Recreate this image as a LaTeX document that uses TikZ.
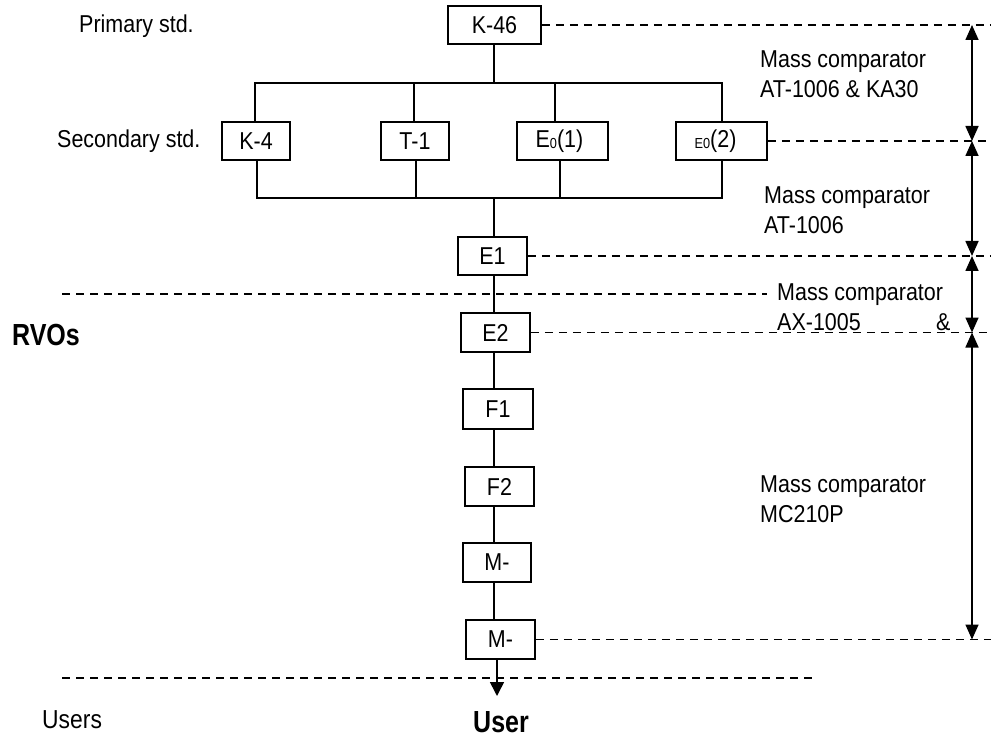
\documentclass[tikz,border=0pt]{standalone}
\usepackage{fontspec}
\setmainfont{Liberation Sans}[FakeStretch=0.88]
\newfontfamily\bnarrow{Liberation Sans}[FakeStretch=0.82]
\usetikzlibrary{arrows.meta}
\begin{document}
\begin{tikzpicture}[x=1pt,y=-1pt,
  every node/.style={font=\fontsize{24.4}{30}\selectfont},
  box/.style={draw, line width=1.6pt, inner sep=0pt, minimum height=38pt},
  conn/.style={line width=1.6pt, line cap=rect},
  dline/.style={line width=1.6pt, dash pattern=on 8pt off 6pt},
  dim/.style={line width=1.6pt, {Triangle[length=15pt,width=13pt]}-{Triangle[length=15pt,width=13pt]}},
  lbl/.style={anchor=base west, inner sep=0pt, align=left},
  boldlbl/.style={lbl, font=\bnarrow\bfseries\fontsize{30.5}{36}\selectfont},
]
\useasboundingbox (0,0) rectangle (991,738);

% boxes
\node[box, minimum width=93pt] (K46) at (494.5,25) {K-46};
\node[box, minimum width=68pt] (K4) at (256,141) {K-4};
\node[box, minimum width=68pt] (T1) at (415,141) {T-1};
\node[box, minimum width=91pt] (E01) at (562.5,141) {E\smash{\raisebox{-1.5pt}{\fontsize{14.5}{14.5}\selectfont 0}}(1)\hspace*{6pt}};
\node[box, minimum width=91pt] (E02) at (721.5,141) {\smash{\raisebox{-1.5pt}{\fontsize{14.5}{14.5}\selectfont E0}}(2)\hspace*{12pt}};
\node[box, minimum width=69pt] (E1) at (492.5,256) {E1};
\node[box, minimum width=69pt, minimum height=39pt] (E2) at (495.5,332.5) {E2};
\node[box, minimum width=70pt, minimum height=40pt] (F1) at (498,409) {F1};
\node[box, minimum width=69pt, minimum height=39pt] (F2) at (499.5,486.5) {F2};
\node[box, minimum width=68pt, minimum height=39pt] (M1) at (497,562.5) {M-};
\node[box, minimum width=69pt, minimum height=39pt] (M2) at (500.5,639.5) {M-};

% tree connectors
\coordinate (spine) at (494,0);
\coordinate (busTL) at (255,83);
\coordinate (busTR) at (722,83);
\coordinate (busBL) at (257,198);
\coordinate (busBR) at (722,198);
\coordinate (dT1) at (414,0);
\coordinate (dE1) at (555,0);
\coordinate (uT1) at (416,0);
\coordinate (uE1) at (560,0);

\draw[conn] (K46.south -| spine) -- (spine |- busTL);
\draw[conn] (busTL) -- (busTR);
\draw[conn] (busTL) -- (busTL |- K4.north);
\draw[conn] (dT1 |- busTL) -- (dT1 |- T1.north);
\draw[conn] (dE1 |- busTL) -- (dE1 |- E01.north);
\draw[conn] (busTR) -- (busTR |- E02.north);

\draw[conn] (busBL |- K4.south) -- (busBL);
\draw[conn] (uT1 |- T1.south) -- (uT1 |- busBL);
\draw[conn] (uE1 |- E01.south) -- (uE1 |- busBL);
\draw[conn] (busBR |- E02.south) -- (busBR);
\draw[conn] (busBL) -- (busBR);

\draw[conn] (spine |- busBL) -- (spine |- E1.north);
\draw[conn] (spine |- E1.south) -- (spine |- E2.north);
\draw[conn] (spine |- E2.south) -- (spine |- F1.north);
\draw[conn] (spine |- F1.south) -- (spine |- F2.north);
\draw[conn] (spine |- F2.south) -- (spine |- M1.north);
\draw[conn] (spine |- M1.south) -- (spine |- M2.north);
\coordinate (tipU) at (497,696);
\draw[line width=1.6pt, -{Triangle[length=14pt,width=14pt]}] (tipU |- M2.south) -- (tipU);

% dashed level lines
\coordinate (rgt) at (991,0);
\draw[dline] (K46.east) -- (K46.east -| rgt);
\draw[dline] (E02.east) -- (E02.east -| rgt);
\draw[dline] (E1.east) -- (E1.east -| rgt);
\draw[dline] (E2.east) -- (E2.east -| rgt);
\draw[dline] (M2.east) -- (M2.east -| rgt);
\coordinate (mA) at (62,294);
\coordinate (mB) at (767,294);
\draw[dline] (mA) -- (mB);
\coordinate (uA) at (62,678);
\coordinate (uB) at (812,678);
\draw[dline] (uA) -- (uB);

% dimension arrows
\coordinate (ax) at (972,0);
\draw[dim] (ax |- K46) -- (ax |- E02);
\draw[dim] (ax |- E02) -- (ax |- E1);
\draw[dim] (ax |- E1) -- (ax |- E2);
\draw[dim] (ax |- E2) -- (ax |- M2);

% labels (base anchor = baseline of last line)
\node[lbl] (pri) at (79,33) {Primary std.};
\node[lbl] (sec) at (57,148) {Secondary std.};
\node[lbl] (mc1) at (760,98) {Mass comparator\\AT-1006 \& KA30};
\node[lbl] (mc2) at (764,234) {Mass comparator\\AT-1006};
\node[lbl] (mc3) at (777,330) {Mass comparator\\AX-1005};
\node[lbl] (amp) at (936,330) {\&};
\node[lbl] (mc4) at (760,522) {Mass comparator\\MC210P};
\node[boldlbl] (rvo) at (12,345) {RVOs};
\node[lbl, font=\fontsize{26}{30}\selectfont] (usrs) at (42,728) {Users};
\node[boldlbl] (user) at (473,732) {User};
\end{tikzpicture}
\end{document}
